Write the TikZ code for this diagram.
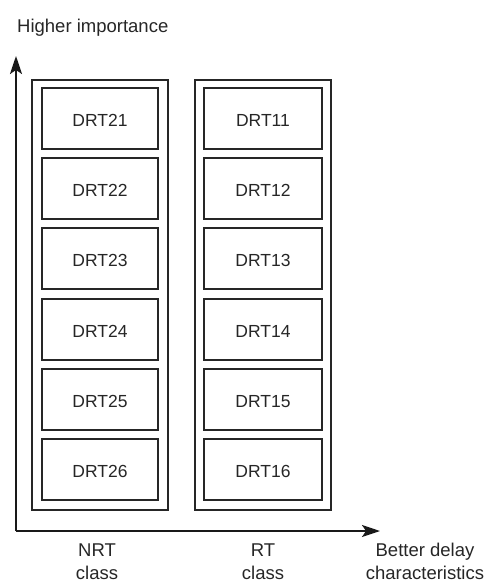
\documentclass[tikz,border=0pt]{standalone}
\usepackage{fontspec}
\setmainfont{Liberation Sans}
\usetikzlibrary{arrows.meta}
\begin{document}
\begin{tikzpicture}[x=1pt,y=-1pt,
  lbl/.style={font=\fontsize{18.5}{23}\selectfont, align=center, inner sep=0pt, text=black!85},
  outerbox/.style={draw=black!85, line width=2pt, inner sep=0pt},
  drt/.style={draw=black!85, line width=2pt, minimum height=61pt, inner sep=0pt,
    text height=16pt, text depth=0pt, text=black!85, font=\fontsize{17.5}{20}\selectfont},
  axis/.style={line width=2pt, black!90, -{Stealth[length=18pt,width=12pt,inset=4pt]}}]
\useasboundingbox (0,0) rectangle (485,582);
% outer class boxes
\node[outerbox, minimum width=136pt, minimum height=430pt] (nrt) at (100,295) {};
\node[outerbox, minimum width=136pt, minimum height=430pt] (rt) at (263,295) {};
% inner boxes
\foreach \i/\n in {0/1,1/2,2/3,3/4,4/5,5/6} {
  \node[drt, minimum width=116pt] (d2\n) at (100,{118.5+\i*70.2}) {DRT2\n};
  \node[drt, minimum width=118pt] (d1\n) at (263,{118.5+\i*70.2}) {DRT1\n};
}
% axes
\coordinate (o) at (16,531);
\coordinate (ytip) at (16,56);
\coordinate (xtip) at (380,531);
\draw[axis] (o) -- (ytip);
\draw[axis] (o) -- (xtip);
% labels
\node[lbl, anchor=base west] (hi) at (17,32) {Higher importance};
\node[lbl, anchor=base] (nrtl) at (97,579) {NRT\\class};
\node[lbl, anchor=base] (rtl) at (263,579) {RT\\class};
\node[lbl, anchor=base] (bd) at (425,579) {Better delay\\characteristics};
\end{tikzpicture}
\end{document}
